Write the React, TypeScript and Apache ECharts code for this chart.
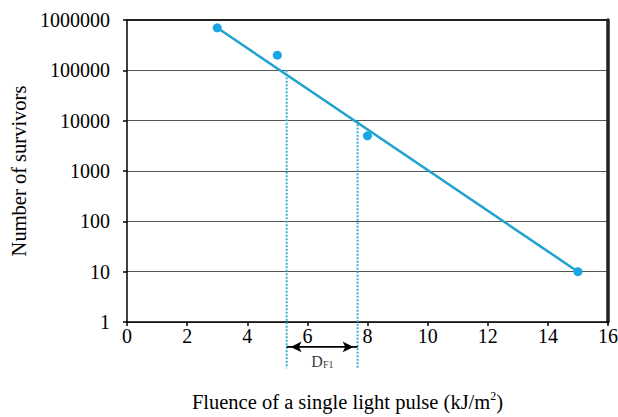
import React, { useEffect, useRef } from "react";
import * as echarts from "echarts";

// Measured data points (fluence kJ/m², survivors)
const fluence = [3, 5, 8, 15];
const survivors = [700000, 200000, 5000, 10];

// Fitted regression line endpoints
const fitX = [3, 15];
const fitY = [700000, 10];

// D_F1 markers: fluence where fit crosses 1e5 and 1e4
const dfX = [5.31, 7.67];
const dfTop = [100000, 10000];
const dfBottom = 0.12;
const arrowY = 0.32;
const labelPos = [6.5, 0.165];

const xTicks = [0, 2, 4, 6, 8, 10, 12, 14, 16];
const yTicks = [1, 10, 100, 1000, 10000, 100000, 1000000];

const FONT = "Liberation Serif";

export default function App() {
  const ref = useRef<HTMLDivElement>(null);
  useEffect(() => {
    if (!ref.current) return;
    const chart = echarts.init(ref.current, undefined, { renderer: "svg" });
    const option: any = {
      animation: false,
      backgroundColor: "#fff",
      textStyle: { fontFamily: FONT, color: "#000" },
      grid: { left: 127, top: 20, right: 10, bottom: 95, containLabel: false, outerBoundsMode: "none" },
      xAxis: [
        {
          type: "value",
          min: xTicks[0],
          max: xTicks[xTicks.length - 1],
          interval: 2,
          name: "Fluence of a single light pulse (kJ/m{sup|2})",
          nameLocation: "middle",
          nameGap: 68,
          nameTextStyle: {
            fontFamily: FONT,
            fontSize: 20.5,
            color: "#000",
            padding: [0, 40, 0, 0],
            rich: {
              sup: { fontSize: 12, verticalAlign: "top", padding: [0, 0, 11, 0], fontFamily: FONT, color: "#000" },
            },
          },
          axisLine: { show: true, onZero: false, lineStyle: { color: "#000", width: 1.5 } },
          axisTick: { show: true, length: 4, lineStyle: { color: "#000", width: 1.5 } },
          axisLabel: { fontFamily: FONT, fontSize: 20, color: "#000", margin: 4 },
          splitLine: { show: false },
        },
        {
          type: "value",
          position: "top",
          min: 0,
          max: 16,
          axisLine: { show: true, onZero: false, lineStyle: { color: "#222", width: 2 } },
          axisTick: { show: false },
          axisLabel: { show: false },
          splitLine: { show: false },
        },
      ],
      yAxis: [
        {
          type: "log",
          logBase: 10,
          min: yTicks[0],
          max: yTicks[yTicks.length - 1],
          name: "Number of survivors",
          nameLocation: "middle",
          nameGap: 97,
          nameRotate: 90,
          nameTextStyle: { fontFamily: FONT, fontSize: 20.5, color: "#000" },
          axisLine: { show: true, onZero: false, lineStyle: { color: "#000", width: 1.5 } },
          axisTick: { show: true, length: 4, lineStyle: { color: "#000", width: 1.5 } },
          axisLabel: {
            fontFamily: FONT,
            fontSize: 20,
            color: "#000",
            margin: 17,
            formatter: (v: number) => String(Math.round(v)),
          },
          splitLine: { show: true, lineStyle: { color: "#555", width: 1 } },
        },
        {
          type: "log",
          logBase: 10,
          position: "right",
          min: 1,
          max: 1000000,
          axisLine: { show: true, onZero: false, lineStyle: { color: "#222", width: 3.5 } },
          axisTick: { show: false },
          axisLabel: { show: false },
          splitLine: { show: false },
        },
      ],
      series: [
        {
          type: "line",
          data: fitX.map((x, i) => [x, fitY[i]]),
          showSymbol: false,
          symbol: "none",
          lineStyle: { color: "#1FA2CE", width: 2.5 },
          silent: true,
          z: 3,
        },
        {
          type: "scatter",
          data: fluence.map((x, i) => [x, survivors[i]]),
          symbolSize: 9,
          itemStyle: { color: "#1AA6E4", opacity: 1 },
          silent: true,
          z: 4,
        },
        ...dfX.map((x, i) => ({
          type: "line",
          clip: false,
          data: [
            [x, dfTop[i]],
            [x, dfBottom],
          ],
          symbol: "none",
          lineStyle: { color: "#3AAFD3", width: 2, type: [2, 1.5] },
          silent: true,
          z: 2,
        })),
        {
          type: "line",
          clip: false,
          data: [
            { value: [dfX[0], arrowY], symbolRotate: 90, symbolOffset: [4, 0] },
            { value: [dfX[1], arrowY], symbolRotate: -90, symbolOffset: [-4, 0] },
          ],
          symbol: "arrow",
          showSymbol: true,
          symbolSize: [8, 11],
          itemStyle: { color: "#000" },
          lineStyle: { color: "#000", width: 1.8 },
          silent: true,
          z: 5,
        },
        {
          type: "scatter",
          clip: false,
          data: [labelPos],
          symbolSize: 2,
          itemStyle: { color: "rgba(0,0,0,0)" },
          label: {
            show: true,
            position: "inside",
            formatter: "{d|D}{s|F1}",
            rich: {
              d: { fontFamily: FONT, fontSize: 16, color: "#000" },
              s: { fontFamily: FONT, fontSize: 10, color: "#000", padding: [7, 0, 0, 0] },
            },
          },
          silent: true,
          z: 5,
        },
      ],
    };
    chart.setOption(option);
    return () => chart.dispose();
  }, []);
  return <div ref={ref} style={{ width: 618, height: 417, position: "absolute", left: 0, top: 0 }} />;
}
